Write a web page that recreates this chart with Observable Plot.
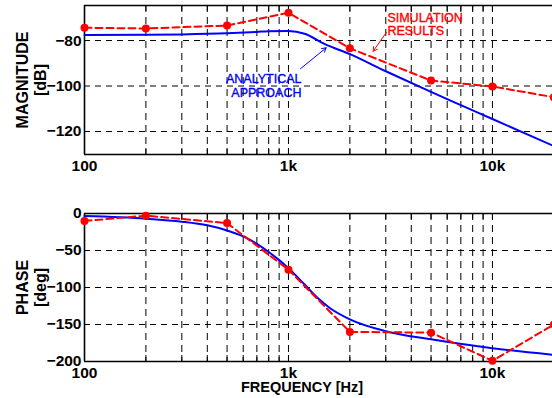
<!DOCTYPE html>
<html>
<head>
<meta charset="utf-8">
<script src="https://cdn.jsdelivr.net/npm/d3@7"></script>
<script src="https://cdn.jsdelivr.net/npm/@observablehq/plot@0.6"></script>
<style>
  html, body { margin: 0; padding: 0; background: #fff; overflow: hidden; }
  #wrap { position: relative; width: 552px; height: 398px; }
  #topPanel, #bottomPanel { position: absolute; left: 0; }
  #topPanel { top: 0; }
  #bottomPanel { top: 198px; }
</style>
</head>
<body>
<div id="wrap"><div id="topPanel"></div><div id="bottomPanel"></div></div>
<script>
// ---- data ----
const simFreq = [100, 200, 500, 1000, 2000, 5000, 10000, 20000];
const simMag = [-74.4, -74.7, -73.4, -67.8, -83.4, -97.6, -100.2, -104.9];
const simPhase = [-10, -3, -13, -76, -160, -161, -199, -150];

const anaMagFreq = [100, 200, 300, 500, 700, 800, 1000, 1200, 1500, 2000, 3000, 5000, 7000, 10000, 20000];
const anaMag = [-77.6, -77.5, -77.3, -76.8, -76.2, -75.9, -75.8, -77, -81.5, -86, -93.5, -102.6, -108.4, -114.5, -126.4];

const anaPhaseFreq = [100, 200, 300, 400, 500, 600, 700, 800, 900, 1000, 1200, 1400, 1600, 2000, 3000, 5000, 10000, 20000];
const anaPhase = [-3.5, -7, -11, -16, -23, -31, -41, -52, -63, -74, -96, -115, -128, -143, -159, -170, -182, -191];

const xTickValues = [100, 1000, 10000];
const xTickLabels = ["100", "1k", "10k"];
const xGrid = [200, 300, 400, 500, 600, 700, 800, 900, 1000, 2000, 3000, 4000, 5000, 6000, 7000, 8000, 9000, 10000];
const magTicks = [-120, -100, -80];
const phaseTicks = [-200, -150, -100, -50, 0];

const simLabel = "SIMULATION\nRESULTS";
const anaLabel = "ANALYTICAL\nAPPROACH";
const simLabelPos = {x: 3055, y: -72.7};
const anaLabelPos = {x: 1158, y: -99.6};
const simArrow = {x1: 3023, y1: -76.35, x2: 2602, y2: -84.7};
const anaArrow = {x1: 1145, y1: -92.4, x2: 1530, y2: -83.2};

// ---- tables ----
const simMagData = simFreq.map((f, i) => ({f, v: simMag[i]}));
const simPhaseData = simFreq.map((f, i) => ({f, v: simPhase[i]}));
const anaMagData = anaMagFreq.map((f, i) => ({f, v: anaMag[i]}));
const anaPhaseData = anaPhaseFreq.map((f, i) => ({f, v: anaPhase[i]}));

const FONT = "'Liberation Sans', Arial, Helvetica, sans-serif";
const xDomain = [100, 19700];
const tickFmt = d => xTickLabels[xTickValues.indexOf(d)] ?? "";
const RED = "#ff0000", BLUE = "#0000ff";

function panel({height, marginTop, marginBottom, yDomain, yTicks, sim, ana, extra, ylabel, ylabelDx}) {
  const plotH = height - marginTop - marginBottom;
  return Plot.plot({
    width: 552,
    height,
    marginLeft: 84,
    marginRight: 0,
    marginTop,
    marginBottom,
    style: {fontFamily: FONT, fontSize: "15.5px", fontWeight: "bold", color: "#000", background: "#fff"},
    x: {type: "log", domain: xDomain, ticks: xTickValues, tickFormat: tickFmt, tickSize: 0, tickPadding: 5, label: null},
    y: {domain: yDomain, ticks: yTicks, tickSize: 0, tickPadding: 3, label: null},
    marks: [
      Plot.ruleX(xGrid, {x: d => d, stroke: "#000", strokeWidth: 1, strokeDasharray: "7,5"}),
      Plot.ruleY(yTicks, {y: d => d, stroke: "#000", strokeWidth: 1, strokeDasharray: "6,5"}),
      Plot.tickX(xGrid, {x: d => d, insetTop: plotH - 6, stroke: "#000", strokeWidth: 1}),
      Plot.tickX(xGrid, {x: d => d, insetBottom: plotH - 6, stroke: "#000", strokeWidth: 1}),
      Plot.ruleX([xDomain[0]], {stroke: "#000", strokeWidth: 1.6}),
      Plot.ruleY([yDomain[0], yDomain[1]], {stroke: "#000", strokeWidth: 1.6}),
      Plot.line(ana, {x: "f", y: "v", stroke: BLUE, strokeWidth: 2, curve: "monotone-x"}),
      Plot.line(sim, {x: "f", y: "v", stroke: RED, strokeWidth: 2, strokeDasharray: "7,4"}),
      Plot.dot(sim, {x: "f", y: "v", r: 4, fill: RED, stroke: null}),
      Plot.text([ylabel], {frameAnchor: "left", dx: ylabelDx, rotate: -90, textAnchor: "middle", lineAnchor: "middle", lineHeight: 1.1, fontSize: 16, fontWeight: "bold", fill: "#000"}),
      ...extra
    ]
  });
}

const topChart = panel({
  height: 175, marginTop: 5, marginBottom: 21,
  yDomain: [-130.1, -64.6], yTicks: magTicks,
  sim: simMagData, ana: anaMagData,
  ylabel: "MAGNITUDE\n[dB]", ylabelDx: -53,
  extra: [
    Plot.text([simLabel], {x: () => simLabelPos.x, y: () => simLabelPos.y, textAnchor: "start", lineAnchor: "middle", lineHeight: 1.07, fill: RED, stroke: RED, strokeWidth: 0.35, fontSize: 12.5, fontWeight: "normal"}),
    Plot.text([anaLabel], {x: () => anaLabelPos.x, y: () => anaLabelPos.y, textAnchor: "end", lineAnchor: "middle", lineHeight: 1.12, fill: BLUE, stroke: BLUE, strokeWidth: 0.35, fontSize: 12.5, fontWeight: "normal"}),
    Plot.arrow([simArrow], {x1: "x1", y1: "y1", x2: "x2", y2: "y2", stroke: RED, strokeWidth: 1, headLength: 7}),
    Plot.arrow([anaArrow], {x1: "x1", y1: "y1", x2: "x2", y2: "y2", stroke: BLUE, strokeWidth: 1, headLength: 7})
  ]
});

const bottomChart = panel({
  height: 200, marginTop: 15, marginBottom: 37,
  yDomain: [-200, 0], yTicks: phaseTicks,
  sim: simPhaseData, ana: anaPhaseData,
  ylabel: "PHASE\n[deg]", ylabelDx: -53,
  extra: [
    Plot.text(["FREQUENCY [Hz]"], {frameAnchor: "bottom", dx: -16.5, dy: 26, textAnchor: "middle", lineAnchor: "middle", fontSize: 14.5, fontWeight: "bold", fill: "#000"})
  ]
});

document.getElementById("topPanel").appendChild(topChart);
document.getElementById("bottomPanel").appendChild(bottomChart);
</script>
</body>
</html>
